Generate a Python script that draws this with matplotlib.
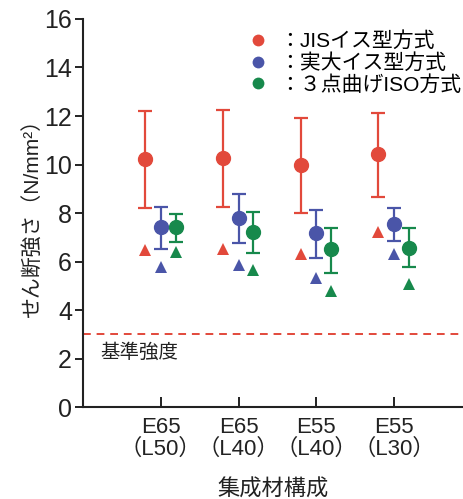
import matplotlib
matplotlib.use("Agg")
import matplotlib.pyplot as plt
from matplotlib.lines import Line2D
import numpy as np

plt.rcParams['font.family'] = ['Liberation Sans', 'Noto Sans CJK JP', 'DejaVu Sans']

categories = ["E65\n（L50）", "E65\n（L40）", "E55\n（L40）", "E55\n（L30）"]
series_names = ["：JISイス型方式", "：実大イス型方式", "：３点曲げISO方式"]

# mean, upper, lower of error bar, and minimum (triangle)
jis_mean = [10.23, 10.25, 9.98, 10.42]
jis_upper = [12.20, 12.25, 11.93, 12.11]
jis_lower = [8.22, 8.23, 7.99, 8.67]
jis_min = [6.47, 6.50, 6.31, 7.20]

full_mean = [7.41, 7.78, 7.16, 7.53]
full_upper = [8.26, 8.78, 8.12, 8.19]
full_lower = [6.51, 6.75, 6.16, 6.86]
full_min = [5.79, 5.88, 5.31, 6.31]

iso_mean = [7.41, 7.20, 6.52, 6.57]
iso_upper = [7.95, 8.04, 7.39, 7.37]
iso_lower = [6.82, 6.35, 5.55, 5.76]
iso_min = [6.38, 5.65, 4.80, 5.07]

standard_strength = 3.0

colors = ["#e2493b", "#4a55a8", "#17894c"]
offsets = [-0.2, 0.0, 0.19]

fig = plt.figure(figsize=(4.64, 4.99), dpi=100)
ax = fig.add_axes([0.179, 0.184, 0.821, 0.778])

x = np.arange(1, len(categories) + 1)
series = [
    (jis_mean, jis_upper, jis_lower, jis_min),
    (full_mean, full_upper, full_lower, full_min),
    (iso_mean, iso_upper, iso_lower, iso_min),
]
for (m, up, lo, mn), c, off in zip(series, colors, offsets):
    m = np.array(m); up = np.array(up); lo = np.array(lo)
    xe = x + off
    ax.errorbar(xe, m, yerr=[m - lo, up - m], fmt='o', color=c, ecolor=c, mec=c,
                elinewidth=1.6, capsize=5, capthick=1.6, markersize=10, zorder=3)
    ax.plot(xe, mn, linestyle='none', marker='^', color=c, markersize=9,
            markeredgewidth=0, zorder=3)

ax.axhline(standard_strength, color="#e2493b", linestyle=(0, (4, 3)), linewidth=1.4)
ax.text(0.22, 2.27, "基準強度", fontsize=14, va='center', ha='left', color='#222222')

ax.set_xlim(0, 4.9)
ax.set_ylim(0, 16)
ax.set_yticks(np.arange(0, 17, 2))
ax.set_xticks(x)
ax.set_xticklabels(categories, fontsize=16, linespacing=1.05)
ax.tick_params(axis='y', direction='out', length=6, width=1.4, labelsize=18, pad=2, colors='#222222')
ax.tick_params(axis='x', direction='in', length=7, width=1.4, pad=7, colors='#222222')
for s in ['top', 'right']:
    ax.spines[s].set_visible(False)
for s in ['left', 'bottom']:
    ax.spines[s].set_linewidth(1.5)
    ax.spines[s].set_color('#222222')

ax.set_ylabel("せん断強さ（N/mm²）", fontsize=15, labelpad=1, color='#222222')
ax.set_xlabel("集成材構成", fontsize=16, labelpad=14, color='#222222')

handles = [Line2D([], [], linestyle='none', marker='o', color=c, markersize=8.5, markeredgewidth=0)
           for c in colors]
ax.legend(handles, series_names, loc='upper left', bbox_to_anchor=(0.41, 0.99),
          frameon=False, fontsize=15, handletextpad=0.5, labelspacing=0.1,
          handlelength=1.0, borderaxespad=0)

fig.savefig("out.png", dpi=100)
